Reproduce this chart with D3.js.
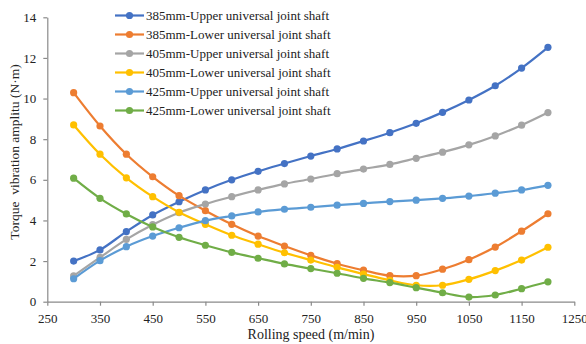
<!DOCTYPE html>
<html><head><meta charset="utf-8">
<script src="https://cdn.jsdelivr.net/npm/d3@7"></script>
<style>body{margin:0;background:#fff;} svg{display:block;} svg text{font-family:'Liberation Serif','Times New Roman','DejaVu Serif',serif !important;fill:#222;}</style>
</head><body><svg id="c" width="586" height="344"></svg>
<script>
const speeds = [300,350,400,450,500,550,600,650,700,750,800,850,900,950,1000,1050,1100,1150,1200];
const upper385 = [2.0,2.55,3.45,4.27,4.92,5.5,6.0,6.42,6.8,7.17,7.52,7.91,8.32,8.78,9.32,9.93,10.63,11.5,12.52];
const lower385 = [10.29,8.65,7.26,6.15,5.22,4.48,3.81,3.23,2.74,2.28,1.87,1.55,1.28,1.28,1.6,2.07,2.69,3.47,4.33];
const upper405 = [1.27,2.18,3.07,3.79,4.38,4.81,5.17,5.5,5.8,6.04,6.3,6.53,6.76,7.06,7.36,7.72,8.16,8.69,9.31];
const lower405 = [8.7,7.26,6.1,5.17,4.4,3.81,3.27,2.83,2.41,2.05,1.69,1.36,1.05,0.81,0.81,1.1,1.53,2.05,2.68];
const upper425 = [1.13,2.02,2.71,3.23,3.64,3.99,4.22,4.42,4.55,4.65,4.75,4.84,4.93,5.0,5.09,5.2,5.34,5.5,5.73];
const lower425 = [6.08,5.09,4.32,3.68,3.17,2.78,2.43,2.14,1.86,1.63,1.4,1.15,0.94,0.69,0.44,0.23,0.33,0.64,0.98];
const seriesNames = ["385mm-Upper universal joint shaft","385mm-Lower universal joint shaft","405mm-Upper universal joint shaft","405mm-Lower universal joint shaft","425mm-Upper universal joint shaft","425mm-Lower universal joint shaft"];
const seriesColors = ["#4472C4","#ED7D31","#A5A5A5","#FFC000","#5B9BD5","#70AD47"];
const xTicks = [250,350,450,550,650,750,850,950,1050,1150,1250];
const yTicks = [0,2,4,6,8,10,12,14];
const xTitle = "Rolling speed (m/min)";
const yTitle = "Torque  vibration amplitu (N·m)";

const seriesVals = [upper385,lower385,upper405,lower405,upper425,lower425];
const svg = d3.select("#c");
const x = d3.scaleLinear().domain([250,1250]).range([47.3,574.3]);
const y = d3.scaleLinear().domain([0,14]).range([301.7,17.3]);
const axisColor = "#8a8a8a";
const fontFam = "'Liberation Serif','Times New Roman','DejaVu Serif',serif";

const gx = svg.append("g").attr("transform",`translate(0,${y(0)})`)
  .call(d3.axisBottom(x).tickValues(xTicks).tickFormat(d3.format("d")).tickSize(4).tickSizeOuter(0).tickPadding(6));
const gy = svg.append("g").attr("transform",`translate(${x(250)},0)`)
  .call(d3.axisLeft(y).tickValues(yTicks).tickFormat(d3.format("d")).tickSize(4).tickSizeOuter(0).tickPadding(7));
[gx,gy].forEach(g=>{
  g.attr("font-family",fontFam);
  g.selectAll("path,line").attr("stroke",axisColor).attr("stroke-width",1.2);
  g.selectAll("text").attr("font-size",13).style("font-family",fontFam).attr("fill","#222");
});
gx.selectAll("text").attr("dy","0.9em");

const line = d3.line().x((d,i)=>x(speeds[i])).y(d=>y(d)).curve(d3.curveCatmullRom.alpha(0.5));
seriesVals.forEach((vals,k)=>{
  const g = svg.append("g");
  g.append("path").datum(vals).attr("d",line).attr("fill","none")
    .attr("stroke",seriesColors[k]).attr("stroke-width",2.2);
  g.selectAll("circle").data(vals).join("circle")
    .attr("cx",(d,i)=>x(speeds[i])).attr("cy",d=>y(d)).attr("r",3.6)
    .attr("fill",seriesColors[k]);
});

// legend
const lg = svg.append("g");
seriesNames.forEach((name,k)=>{
  const yy = 15.5 + k*19;
  lg.append("line").attr("x1",115).attr("x2",144).attr("y1",yy).attr("y2",yy)
    .attr("stroke",seriesColors[k]).attr("stroke-width",2.2);
  lg.append("circle").attr("cx",129.5).attr("cy",yy).attr("r",3.6).attr("fill",seriesColors[k]);
  lg.append("text").attr("x",146).attr("y",yy).attr("dy","0.35em").attr("font-size",13).style("font-family",fontFam).text(name);
});

svg.append("text").attr("x",311).attr("y",339).attr("text-anchor","middle").attr("font-size",14).style("font-family",fontFam).text(xTitle);
svg.append("text").attr("transform","translate(19,152) rotate(-90)").attr("text-anchor","middle")
  .attr("font-size",13.5).style("font-family",fontFam).style("white-space","pre").text(yTitle);
</script></body></html>
